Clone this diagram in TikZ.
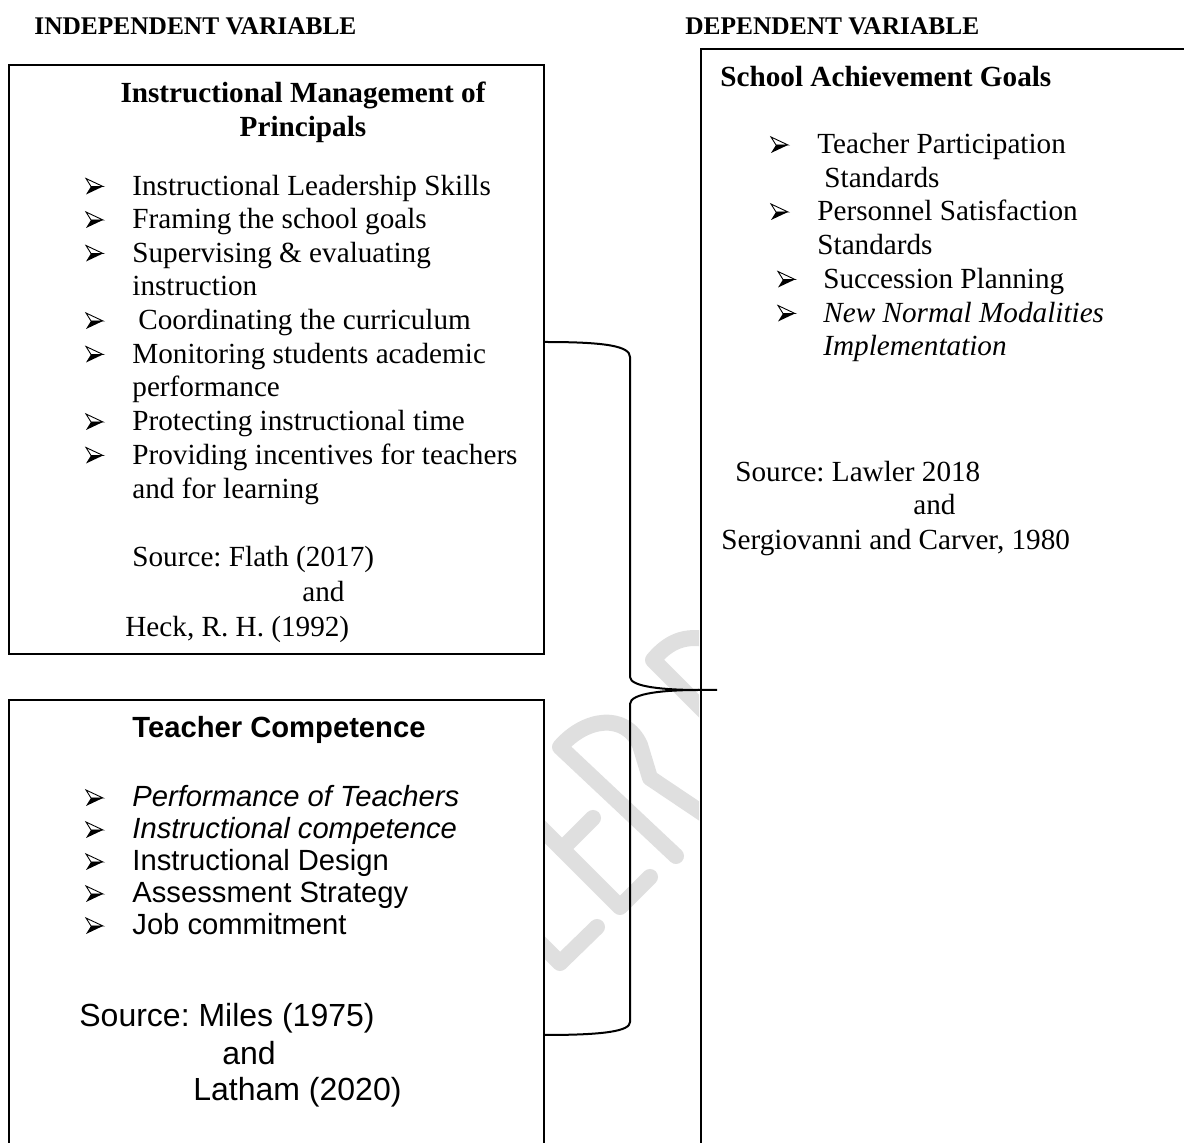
\documentclass[tikz,border=0pt]{standalone}
\usepackage{fontspec}
\setmainfont{Liberation Serif}
\setsansfont{Liberation Sans}
\AtBeginDocument{\frenchspacing}
\begin{document}
\begin{tikzpicture}[x=0.5pt,y=-0.5pt,
  box/.style={draw, line width=1pt, fill=white, inner sep=0pt, anchor=north west},
  wm/.style={draw=gray!25, line width=8pt, line cap=round, line join=round},
  brace/.style={draw, line width=1pt},
  hd/.style={anchor=base west, inner sep=0pt, font=\bfseries\fontsize{12.7}{15}\selectfont},
  tx/.style={anchor=base west, inner sep=0pt, font=\fontsize{14.6}{17}\selectfont},
  txi/.style={tx, font=\itshape\fontsize{14.6}{17}\selectfont},
  ttl/.style={anchor=base, inner sep=0pt, font=\bfseries\fontsize{14.6}{17}\selectfont},
  ttlw/.style={anchor=base west, inner sep=0pt, font=\bfseries\fontsize{14.6}{17}\selectfont},
  sx/.style={anchor=base west, inner sep=0pt, font=\sffamily\fontsize{14.6}{17}\selectfont},
  sxi/.style={sx, font=\sffamily\itshape\fontsize{14.6}{17}\selectfont},
  sxb/.style={anchor=base west, inner sep=0pt, font=\sffamily\bfseries\fontsize{14.6}{17}\selectfont},
  sxl/.style={anchor=base west, inner sep=0pt, font=\sffamily\fontsize{16}{19}\selectfont},
  bullet/.pic={
    \filldraw[fill=white, line width=0.45pt, line join=miter] (0,-8) -- (17,0) -- (5,0) -- cycle;
    \fill (5,0) -- (17,0) -- (0,8) -- cycle;
  }
]
\useasboundingbox (0,0) rectangle (1184,1143);

% watermark (partly visible between boxes)
\begin{scope}
  \clip (544,0) rectangle (699,1143);
  \draw[wm] (500,787) -- (620,907) -- (650,877);
  \draw[wm] (562,849) -- (593,818);
  \draw[wm] (597,927) -- (560,963) -- (520,923);
  \draw[wm] (676,856) -- (560,747) .. controls (585,718) and (625,712) .. (640,745) -- (650,778) -- (720,825);
  \draw[wm] (720,727) -- (653,660) .. controls (668,642) and (685,634) .. (710,640);
\end{scope}

% boxes
\node[box, minimum width=267.5pt, minimum height=294.5pt] (b1) at (8,64) {};
\node[box, minimum width=267.5pt, minimum height=250pt] (b2) at (8,699) {};
\node[box, minimum width=300pt, minimum height=600pt] (b3) at (700,48) {};

% headers
\node[hd] (h1) at (34,35) {INDEPENDENT VARIABLE};
\node[hd] (h2) at (685,35) {DEPENDENT VARIABLE};

% box 1
\node[ttl] (t1a) at (303,103) {Instructional Management of};
\node[ttl] (t1b) at (303,137) {Principals};
\pic (p1) at (86,186.5) {bullet};
\node[tx] (i1) at (132,195.5) {Instructional Leadership Skills};
\pic (p2) at (86,220) {bullet};
\node[tx] (i2) at (132,229) {Framing the school goals};
\pic (p3) at (86,253.5) {bullet};
\node[tx] (i3) at (132,262.5) {Supervising \& evaluating};
\node[tx] (i3b) at (132,296) {instruction};
\pic (p4) at (86,321) {bullet};
\node[tx] (i4) at (138,330) {Coordinating the curriculum};
\pic (p5) at (86,354.5) {bullet};
\node[tx] (i5) at (132,363.5) {Monitoring students academic};
\node[tx] (i5b) at (132,397) {performance};
\pic (p6) at (86,422) {bullet};
\node[tx] (i6) at (132,431) {Protecting instructional time};
\pic (p7) at (86,455.5) {bullet};
\node[tx] (i7) at (132,464.5) {Providing incentives for teachers};
\node[tx] (i7b) at (132,498.5) {and for learning};
\node[tx] (s1a) at (132,566.5) {Source: Flath (2017)};
\node[tx] (s1b) at (302,602) {and};
\node[tx] (s1c) at (125,637) {Heck, R. H. (1992)};

% box 2
\node[sxb] (t2) at (132,738) {Teacher Competence};
\pic (q1) at (86,798) {bullet};
\node[sxi] (j1) at (132,807) {Performance of Teachers};
\pic (q2) at (86,830) {bullet};
\node[sxi] (j2) at (132,839) {Instructional competence};
\pic (q3) at (86,862) {bullet};
\node[sx] (j3) at (132,871) {Instructional Design};
\pic (q4) at (86,894) {bullet};
\node[sx] (j4) at (132,903) {Assessment Strategy};
\pic (q5) at (86,926) {bullet};
\node[sx] (j5) at (132,935) {Job commitment};
\node[sxl] (s2a) at (79,1027) {Source: Miles (1975)};
\node[sxl] (s2b) at (222,1064) {and};
\node[sxl] (s2c) at (193,1100) {Latham (2020)};

% box 3
\node[ttlw] (t3) at (720,87) {School Achievement Goals};
\pic (r1) at (771,145) {bullet};
\node[tx] (k1) at (817,154) {Teacher Participation};
\node[tx] (k1b) at (824,187.5) {Standards};
\pic (r2) at (771,212) {bullet};
\node[tx] (k2) at (817,221) {Personnel Satisfaction};
\node[tx] (k2b) at (817,254.5) {Standards};
\pic (r3) at (778,279.5) {bullet};
\node[tx] (k3) at (823,288.5) {Succession Planning};
\pic (r4) at (778,313.5) {bullet};
\node[txi] (k4) at (823,322.5) {New Normal Modalities};
\node[txi] (k4b) at (823,356) {Implementation};
\node[tx] (s3a) at (735,482) {Source: Lawler 2018};
\node[tx] (s3b) at (913,515) {and};
\node[tx] (s3c) at (721,550) {Sergiovanni and Carver, 1980};

% brace joining the two boxes to the dependent variable
\coordinate (ya) at (0,342);
\coordinate (yb) at (0,1035);
\coordinate (tipm) at (699,690);
\coordinate (tip) at (717,690);
\draw[brace] (b1.east |- ya) .. controls (605,342) and (630,346) .. (630,357) -- (630,677)
  .. controls (630,687) and (665,690) .. (tipm) -- (tip);
\draw[brace] (tipm) .. controls (665,690) and (630,693) .. (630,704) -- (630,1022)
  .. controls (630,1031) and (605,1035) .. (b2.east |- yb);
\end{tikzpicture}
\end{document}
